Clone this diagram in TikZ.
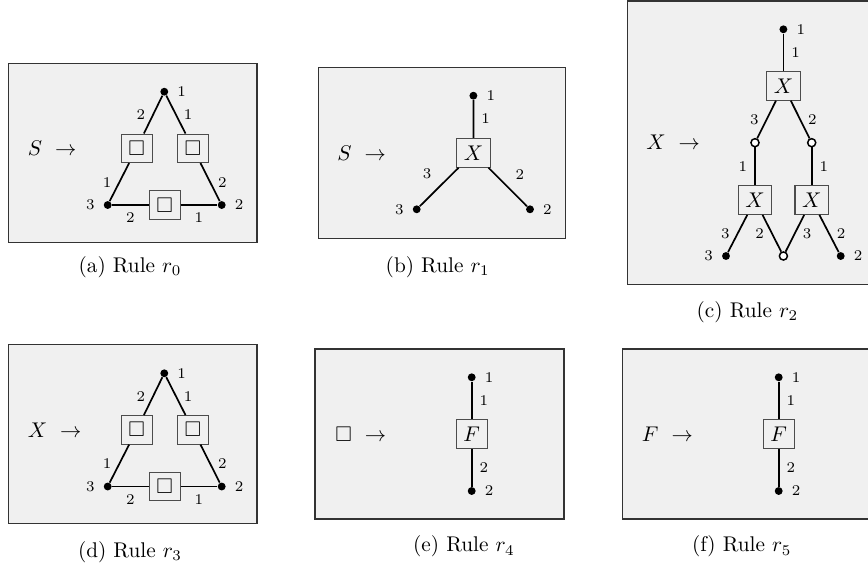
\documentclass[tikz,border=0pt]{standalone}
\usepackage{amssymb}
\usepackage{amsmath}
\usepackage{xcolor}
\usepackage{tikz}
\usetikzlibrary{arrows.meta,calc,positioning}

\tikzset{
  panel/.style={draw=black!80,fill=black!6,line width=0.5pt},
  head/.style={anchor=west,inner sep=0pt},
  hbox/.style={draw=black!70,line width=0.5pt,inner sep=3.33pt},
  ext/.style={circle,fill=black,inner sep=0pt,minimum size=3.7pt},
  int/.style={circle,draw=black,fill=white,line width=0.7pt,inner sep=0pt,minimum size=3.8pt},
  lbl/.style={font=\scriptsize},
  tent/.style={line width=0.8pt},
  every label/.style={font=\scriptsize},
  label distance=0.6pt
}

\begin{document}
\begin{tikzpicture}[x=0.47pt,y=-0.47pt]
\useasboundingbox (0,0) rectangle (868,566);
\clip (0,0) rectangle (868,566);

\draw[panel] (8.3,63.3) rectangle (257,242.7);
\node[head] (ah) at (27.5,148.3) {$S\ \rightarrow$};
\node[ext,label=right:1] (a1) at (164.3,91.7) {};
\node[ext,label=left:3] (a3) at (107.7,205) {};
\node[ext,label=right:2] (a2) at (221.7,205) {};
\node[hbox] (aL) at (136.7,148.3) {$\square$};
\node[hbox] (aR) at (193,148.3) {$\square$};
\node[hbox] (aB) at (164.7,205) {$\square$};
\draw[tent] (a1) -- node[lbl,left] {2} (aL) -- node[lbl,left] {1} (a3);
\draw[tent] (a1) -- node[lbl,right] {1} (aR) -- node[lbl,right] {2} (a2);
\draw[tent] (a3) -- node[lbl,below] {2} (aB) -- node[lbl,below] {1} (a2);
\node (acap) at (130,267) {(a) Rule $r_0$};

\draw[panel] (318.3,67.3) rectangle (565.7,238.3);
\node[head] (bh) at (337,152.8) {$S\ \rightarrow$};
\node[ext,label=right:1] (b1) at (473.4,95.7) {};
\node[hbox] (bX) at (473.6,152.8) {$X$};
\node[ext,label=left:3] (b3) at (416.7,209.3) {};
\node[ext,label=right:2] (b2) at (530,209.3) {};
\draw[tent] (b1) -- node[lbl,right] {1} (bX);
\draw[tent] (bX) -- node[lbl,above left] {3} (b3);
\draw[tent] (bX) -- node[lbl,above right] {2} (b2);
\node (bcap) at (437.7,267) {(b) Rule $r_1$};

\draw[panel] (627.3,1) rectangle (876,284.3);
\node[head] (ch) at (646,142.7) {$X\ \rightarrow$};
\node[ext,label=right:1] (c1) at (783.4,29.3) {};
\node[hbox] (cX) at (783.4,85.8) {$X$};
\node[int] (cl) at (755,142.7) {};
\node[int] (cr) at (811.7,142.7) {};
\node[hbox] (cXl) at (755,200) {$X$};
\node[hbox] (cXr) at (811.7,200) {$X$};
\node[ext,label=left:3] (c3) at (726,256) {};
\node[int] (cm) at (783.4,256) {};
\node[ext,label=right:2] (c2) at (840.7,256) {};
\draw[tent] (c1) -- node[lbl,right] {1} (cX);
\draw[tent] (cX) -- node[lbl,left] {3} (cl);
\draw[tent] (cX) -- node[lbl,right] {2} (cr);
\draw[tent] (cl) -- node[lbl,left] {1} (cXl);
\draw[tent] (cr) -- node[lbl,right] {1} (cXr);
\draw[tent] (cXl) -- node[lbl,left] {3} (c3);
\draw[tent] (cXl) -- node[lbl,left] {2} (cm);
\draw[tent] (cXr) -- node[lbl,right] {3} (cm);
\draw[tent] (cXr) -- node[lbl,right] {2} (c2);
\node (ccap) at (747.5,312) {(c) Rule $r_2$};

\draw[panel] (8.3,344.7) rectangle (257,523.3);
\node[head] (dh) at (27.5,430) {$X\ \rightarrow$};
\node[ext,label=right:1] (d1) at (164.3,373.3) {};
\node[ext,label=left:3] (d3) at (107.7,486.5) {};
\node[ext,label=right:2] (d2) at (221.7,486.5) {};
\node[hbox] (dL) at (136.7,429.8) {$\square$};
\node[hbox] (dR) at (193,429.8) {$\square$};
\node[hbox] (dB) at (164.7,486.5) {$\square$};
\draw[tent] (d1) -- node[lbl,left] {2} (dL) -- node[lbl,left] {1} (d3);
\draw[tent] (d1) -- node[lbl,right] {1} (dR) -- node[lbl,right] {2} (d2);
\draw[tent] (d3) -- node[lbl,below] {2} (dB) -- node[lbl,below] {1} (d2);
\node (dcap) at (130,552) {(d) Rule $r_3$};

\draw[panel] (315,349) rectangle (564,519);
\node[head] (eh) at (335,434.3) {$\square\ \rightarrow$};
\node[ext,label=right:1] (e1) at (471.7,377.3) {};
\node[hbox] (eF) at (471.7,434.3) {$F$};
\node[ext,label=right:2] (e2) at (471.7,491) {};
\draw[tent] (e1) -- node[lbl,right] {1} (eF) -- node[lbl,right] {2} (e2);
\node (ecap) at (464,546.5) {(e) Rule $r_4$};

\draw[panel] (622.3,349) rectangle (871,519);
\node[head] (fh) at (641.5,434.3) {$F\ \rightarrow$};
\node[ext,label=right:1] (f1) at (778.7,377.3) {};
\node[hbox] (fF) at (778.7,434.3) {$F$};
\node[ext,label=right:2] (f2) at (778.7,491) {};
\draw[tent] (f1) -- node[lbl,right] {1} (fF) -- node[lbl,right] {2} (f2);
\node (fcap) at (741.7,546.5) {(f) Rule $r_5$};
\end{tikzpicture}
\end{document}
